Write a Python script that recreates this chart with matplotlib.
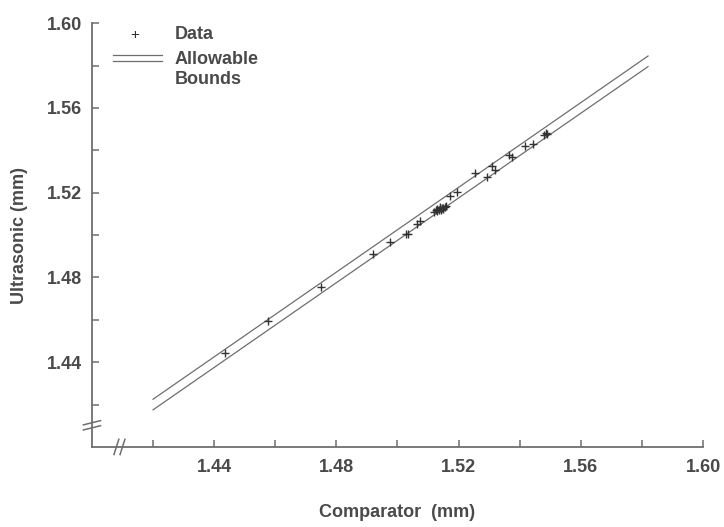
import numpy as np
import matplotlib
matplotlib.use("Agg")
import matplotlib.pyplot as plt

plt.rcParams['font.family'] = ['Liberation Sans', 'DejaVu Sans']

# comparator vs ultrasonic thickness readings (mm)
comparator = [1.4435, 1.4575, 1.4749, 1.4921, 1.4977, 1.5029, 1.5033, 1.5064,
              1.5075, 1.5118, 1.5125, 1.5130, 1.5135, 1.5140, 1.5145, 1.5150,
              1.5155, 1.5160, 1.5128, 1.5142, 1.5148, 1.5138, 1.5173, 1.5195,
              1.5255, 1.5293, 1.5310, 1.5320, 1.5364, 1.5375, 1.5418, 1.5445,
              1.5478, 1.5489, 1.5485]
ultrasonic = [1.4445, 1.4594, 1.4755, 1.4910, 1.4967, 1.5007, 1.5003, 1.5052,
              1.5068, 1.5110, 1.5118, 1.5122, 1.5120, 1.5126, 1.5130, 1.5128,
              1.5132, 1.5135, 1.5112, 1.5118, 1.5124, 1.5133, 1.5186, 1.5202,
              1.5292, 1.5276, 1.5328, 1.5308, 1.5380, 1.5369, 1.5418, 1.5431,
              1.5470, 1.5478, 1.5482]

# allowable bounds: y = x +/- tolerance
bound_x = [1.420, 1.582]
tolerance = 0.0025

ticks = [1.42, 1.44, 1.46, 1.48, 1.50, 1.52, 1.54, 1.56, 1.58, 1.60]
tick_labels = ['', '1.44', '', '1.48', '', '1.52', '', '1.56', '', '1.60']

grey = '#4a4a4a'
line_grey = '#6e6e6e'

fig = plt.figure(figsize=(7.24, 5.27), dpi=100)
ax = fig.add_axes([0.127, 0.152, 0.844, 0.804])

bx = np.array(bound_x)
ax.plot(bx, bx + tolerance, color=line_grey, lw=0.9)
ax.plot(bx, bx - tolerance, color=line_grey, lw=0.9)
ax.scatter(comparator, ultrasonic, marker='+', s=30, color='#333333',
           linewidths=1.0, zorder=3)

ax.set_xlim(1.40, 1.60)
ax.set_ylim(1.40, 1.60)
ax.set_xticks(ticks)
ax.set_xticklabels(tick_labels)
ax.set_yticks(ticks)
ax.set_yticklabels(tick_labels)

for s in ['top', 'right']:
    ax.spines[s].set_visible(False)
for s in ['left', 'bottom']:
    ax.spines[s].set_color(line_grey)
    ax.spines[s].set_linewidth(1.3)

ax.tick_params(axis='x', direction='in', length=5, width=1.1, color=line_grey,
               labelsize=13, labelcolor=grey, pad=9)
ax.tick_params(axis='y', direction='in', length=5, width=1.1, color=line_grey,
               labelsize=13, labelcolor=grey, pad=7)
for lab in ax.get_xticklabels() + ax.get_yticklabels():
    lab.set_fontweight('bold')

ax.set_xlabel('Comparator  (mm)', fontsize=13, fontweight='bold', color=grey,
              labelpad=20)
ax.set_ylabel('Ultrasonic (mm)', fontsize=13, fontweight='bold', color=grey,
              labelpad=14)

# axis break marks
bk = dict(color=line_grey, lw=1.1, transform=ax.transAxes, clip_on=False)
ax.plot([0.036, 0.050], [0.0, 0.0], color='white', lw=4,
        transform=ax.transAxes, clip_on=False)
ax.plot([0.036, 0.044], [-0.018, 0.018], **bk)
ax.plot([0.046, 0.054], [-0.018, 0.018], **bk)
ax.plot([0.0, 0.0], [0.040, 0.060], color='white', lw=4,
        transform=ax.transAxes, clip_on=False)
ax.plot([-0.014, 0.014], [0.040, 0.050], **bk)
ax.plot([-0.014, 0.014], [0.052, 0.062], **bk)

# hand-made legend
ax.text(0.070, 0.973, '+', transform=ax.transAxes, fontsize=11, color='#333333',
        ha='center', va='center')
ax.text(0.135, 0.973, 'Data', transform=ax.transAxes, fontsize=13,
        fontweight='bold', color=grey, va='center')
ax.plot([0.034, 0.115], [0.925, 0.925], color=line_grey, lw=0.9,
        transform=ax.transAxes, clip_on=False)
ax.plot([0.034, 0.115], [0.910, 0.910], color=line_grey, lw=0.9,
        transform=ax.transAxes, clip_on=False)
ax.text(0.135, 0.915, 'Allowable', transform=ax.transAxes, fontsize=13,
        fontweight='bold', color=grey, va='center')
ax.text(0.135, 0.867, 'Bounds', transform=ax.transAxes, fontsize=13,
        fontweight='bold', color=grey, va='center')

fig.savefig('out.png', dpi=100)
